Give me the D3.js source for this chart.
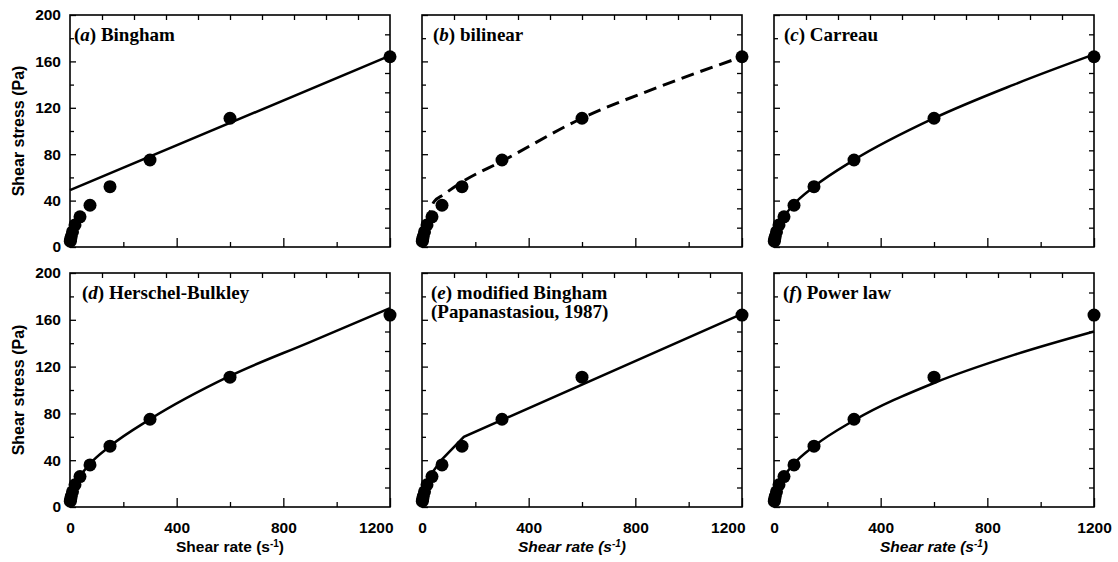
<!DOCTYPE html>
<html>
<head>
<meta charset="utf-8">
<script src="https://cdn.jsdelivr.net/npm/d3@7"></script>
<style>
  body { margin: 0; background: #fff; }
</style>
</head>
<body>
<script>
// measured points (same in every panel)
const shearRate   = [1.2, 2.3, 4.7, 9.4, 18.75, 37.5, 75, 150, 300, 600, 1200];
const shearStress = [5, 6.5, 9, 13, 19, 26, 36, 52, 75, 111, 164];

// fitted curves as [rate, stress]
const binghamFit    = [[0, 49], [1200, 165]];
const bilinearFit   = [[0, 4], [20, 22], [45, 39], [80, 45], [150, 56], [300, 74], [600, 111], [900, 139], [1200, 164]];
const carreauFit    = [[0, 4], [2, 6], [5, 9], [10, 13], [20, 19], [37.5, 26], [75, 37], [150, 52], [300, 75], [600, 111], [900, 140], [1200, 166]];
const hbFit         = [[0, 5], [5, 9], [10, 13], [20, 19], [37.5, 26], [75, 37], [150, 52], [300, 75], [600, 112], [900, 141], [1200, 170]];
const modBinghamFit = [[0, 4], [5, 10], [15, 18], [40, 30], [76, 41], [157, 60], [1200, 165]];
const powerLawFit   = [[0, 0], [2, 6], [5, 9], [10, 13], [20, 19], [37.5, 26], [75, 37], [150, 52], [300, 74], [600, 106], [900, 130], [1200, 150]];

const panelLetters = ['a', 'b', 'c', 'd', 'e', 'f'];
const panelNames = [['Bingham'], ['bilinear'], ['Carreau'], ['Herschel-Bulkley'],
                    ['modified Bingham', '(Papanastasiou, 1987)'], ['Power law']];
const panelFits = [binghamFit, bilinearFit, carreauFit, hbFit, modBinghamFit, powerLawFit];

const xTicks = [0, 400, 800, 1200];
const xMinorTicks = [200, 600, 1000];
const yTicks = [0, 40, 80, 120, 160, 200];
const yMinorTicks = [20, 60, 100, 140, 180];

// layout
const W = 1118, H = 562;
const colX = [70, 422, 774];
const rowY = [15, 273];
const rowH = [232, 234];
const plotW = 320;
const titleDx = [4, 11, 10, 12, 9, 9];
const sans = "'Liberation Sans', Arial, sans-serif";
const serif = "'Liberation Serif', 'Times New Roman', serif";

const svg = d3.select('body').append('svg')
  .attr('width', W)
  .attr('height', H);

panelFits.forEach((fit, i) => {
  const col = i % 3, row = Math.floor(i / 3);
  const h = rowH[row];
  const x = d3.scaleLinear().domain([0, 1200]).range([0, plotW]);
  const y = d3.scaleLinear().domain([0, 200]).range([h, 0]);

  const g = svg.append('g').attr('transform', `translate(${colX[col]},${rowY[row]})`);

  // left ticks
  g.append('g').call(d3.axisLeft(y).tickValues(yTicks).tickSize(-6).tickSizeOuter(0).tickPadding(9)
    .tickFormat(col === 0 ? d3.format('d') : ''));
  g.append('g').call(d3.axisLeft(y).tickValues(yMinorTicks).tickSize(-4).tickSizeOuter(0).tickFormat(''));
  // right ticks
  g.append('g').attr('transform', `translate(${plotW},0)`)
    .call(d3.axisRight(y).tickValues(d3.range(1, 12).map(k => k * 200 / 12)).tickSize(-5).tickSizeOuter(0).tickFormat(''));
  // top ticks
  g.append('g')
    .call(d3.axisTop(x).tickValues(d3.range(120, 1200, 120)).tickSize(-5).tickSizeOuter(0).tickFormat(''));
  // bottom ticks
  const bottom = g.append('g').attr('transform', `translate(0,${h})`)
    .call(d3.axisBottom(x).tickValues(xTicks).tickSize(-9).tickSizeOuter(0).tickPadding(15)
      .tickFormat(row === 1 ? d3.format('d') : ''));
  g.append('g').attr('transform', `translate(0,${h})`)
    .call(d3.axisBottom(x).tickValues(xMinorTicks).tickSize(-5).tickSizeOuter(0).tickFormat(''));

  g.selectAll('.domain').remove();
  g.selectAll('.tick line').attr('stroke', '#000').attr('stroke-width', 1.3);
  g.selectAll('.tick text')
    .attr('font-family', sans)
    .attr('font-size', 15.5)
    .attr('font-weight', 'bold')
    .attr('fill', '#000');

  if (row === 1 && col < 2) {
    bottom.selectAll('.tick text').filter(d => d === 1200)
      .attr('text-anchor', 'end').attr('x', 3);
  }

  // frame
  g.append('rect')
    .attr('width', plotW).attr('height', h)
    .attr('fill', 'none').attr('stroke', '#000').attr('stroke-width', 1.6);

  // fitted curve
  g.append('path')
    .datum(fit)
    .attr('fill', 'none')
    .attr('stroke', '#000')
    .attr('stroke-width', i === 1 ? 3 : 2.5)
    .attr('stroke-dasharray', i === 1 ? '13,7' : null)
    .attr('d', d3.line().x(d => x(d[0])).y(d => y(d[1]))
      .curve(i === 0 || i === 4 ? d3.curveLinear : d3.curveMonotoneX));

  // data points
  g.selectAll('circle.pt')
    .data(shearRate.map((r, k) => [r, shearStress[k]]))
    .join('circle')
    .attr('class', 'pt')
    .attr('cx', d => x(d[0]))
    .attr('cy', d => y(d[1]))
    .attr('r', 6.5)
    .attr('fill', '#000');

  // panel title
  const title = g.append('text')
    .attr('x', titleDx[i]).attr('y', 26)
    .attr('font-family', serif)
    .attr('font-size', 19)
    .attr('font-weight', 'bold')
    .attr('fill', '#000');
  title.append('tspan').text('(');
  title.append('tspan').attr('font-style', 'italic').text(panelLetters[i]);
  title.append('tspan').text(') ' + panelNames[i][0]);
  if (panelNames[i][1]) {
    g.append('text')
      .attr('x', titleDx[i]).attr('y', 45)
      .attr('font-family', serif)
      .attr('font-size', 19)
      .attr('font-weight', 'bold')
      .attr('fill', '#000')
      .text(panelNames[i][1]);
  }

  // axis titles
  if (col === 0) {
    g.append('text')
      .attr('transform', `translate(${18 - colX[0]},${h / 2}) rotate(-90)`)
      .attr('text-anchor', 'middle')
      .attr('dominant-baseline', 'central')
      .attr('font-family', sans)
      .attr('font-size', 16)
      .attr('font-weight', 'bold')
      .text('Shear stress (Pa)');
  }
  if (row === 1) {
    const xt = g.append('text')
      .attr('x', plotW / 2 - (col === 1 ? 10 : 0))
      .attr('y', h + 45)
      .attr('text-anchor', 'middle')
      .attr('font-family', sans)
      .attr('font-size', 15.5)
      .attr('font-weight', 'bold')
      .attr('font-style', col === 0 ? 'normal' : 'italic');
    xt.append('tspan').text('Shear rate (s');
    xt.append('tspan').attr('font-size', 10).attr('dy', -5).text('-1');
    xt.append('tspan').attr('dy', 5).text(')');
  }
});
</script>
</body>
</html>
